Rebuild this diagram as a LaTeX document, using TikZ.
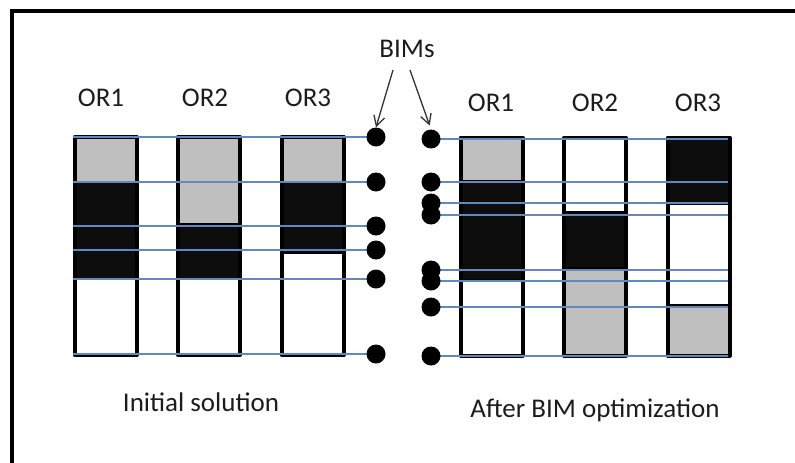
\documentclass[tikz,border=0pt]{standalone}
\usepackage{fontspec}
\setmainfont{Carlito}
\usetikzlibrary{arrows.meta}
\definecolor{cellgray}{HTML}{BFBFBF}
\definecolor{cellblack}{HTML}{0D0D0D}
\definecolor{bimblue}{HTML}{6089C4}
\definecolor{labelink}{HTML}{1C1C1C}
\definecolor{pointerink}{HTML}{333333}
\tikzset{
  frameline/.style={draw=black, line width=4pt},
  colshape/.style={rectangle, inner sep=0pt, outer sep=0pt, minimum width=62pt, minimum height=218pt},
  colline/.style={draw=black, line width=4pt, line join=round},
  seg/.style={draw=black, line width=1.5pt},
  bimline/.style={draw=bimblue, line width=1.8pt},
  bimdot/.style={circle, fill=black, inner sep=0pt, minimum size=19pt},
  lab/.style={inner sep=0pt, text=labelink, font=\fontsize{27}{32}\selectfont, anchor=base},
  pointer/.style={draw=pointerink, line width=1.3pt, -{Straight Barb[length=10pt,width=11pt,line width=1.3pt]}}
}
% one coloured slice of an OR column, between two heights
\newcommand\orcell[4]{\filldraw[seg, fill=#4] (#1.west |- 0,#2) rectangle (#1.east |- 0,#3);}
\begin{document}
\begin{tikzpicture}[x=1pt,y=-1pt]
\useasboundingbox (0,0) rectangle (795,463);

% outer frame
\draw[frameline] (12,470) -- (12,11) -- (800,11);

% operating-room columns
\foreach \n/\x in {L1/105.5, L2/209, L3/312.5}
  \node[colshape] (\n) at (\x,246) {};
\foreach \n/\x in {R1/491.5, R2/595, R3/698.5}
  \node[colshape] (\n) at (\x,246.5) {};

% initial solution
\orcell{L1}{137}{182}{cellgray}
\orcell{L1}{182}{279}{cellblack}
\orcell{L1}{279}{355}{white}
\orcell{L2}{137}{224}{cellgray}
\orcell{L2}{224}{279}{cellblack}
\orcell{L2}{279}{355}{white}
\orcell{L3}{137}{182}{cellgray}
\orcell{L3}{182}{253}{cellblack}
\orcell{L3}{253}{355}{white}

% after BIM optimization
\orcell{R1}{137.5}{181}{cellgray}
\orcell{R1}{181}{280}{cellblack}
\orcell{R1}{280}{355.5}{white}
\orcell{R2}{137.5}{212}{white}
\orcell{R2}{212}{268}{cellblack}
\orcell{R2}{268}{355.5}{cellgray}
\orcell{R3}{137.5}{204}{cellblack}
\orcell{R3}{204}{305}{white}
\orcell{R3}{305}{355.5}{cellgray}

\foreach \n in {L1,L2,L3,R1,R2,R3}
  \draw[colline] (\n.north west) rectangle (\n.south east);

% BIM positions
\foreach \i/\y in {1/137, 2/182, 3/226, 4/250, 5/279, 6/354}
  \coordinate (cL\i) at (376,\y);
\foreach \i/\y in {1/139, 2/182, 3/203, 4/215, 5/270, 6/281, 7/307, 8/356}
  \coordinate (cR\i) at (431,\y);

\foreach \i in {1,...,6}
  \draw[bimline] ([xshift=-2pt]L1.west |- cL\i) -- (cL\i);
\foreach \i in {1,...,8}
  \draw[bimline] (cR\i) -- ([xshift=-2pt]R3.east |- cR\i);

\foreach \i in {1,...,6}
  \node[bimdot] (dL\i) at (cL\i) {};
\foreach \i in {1,...,8}
  \node[bimdot] (dR\i) at (cR\i) {};

% labels
\node[lab] (tL1) at (101,106) {OR1};
\node[lab] (tL2) at (205,106) {OR2};
\node[lab] (tL3) at (308,106) {OR3};
\node[lab] (tR1) at (491,111) {OR1};
\node[lab] (tR2) at (595,111) {OR2};
\node[lab] (tR3) at (698,111) {OR3};
\node[lab] (bims) at (407,57) {BIMs};
\node[lab] (init) at (201,411) {Initial solution};
\node[lab] (after) at (595,417) {After BIM optimization};

% pointers from the BIMs label
\coordinate (aL) at (393,70);
\coordinate (aR) at (410,70);
\draw[pointer] (aL) -- (dL1.north);
\draw[pointer, shorten >=4pt] (aR) -- (dR1.north);
\end{tikzpicture}
\end{document}
